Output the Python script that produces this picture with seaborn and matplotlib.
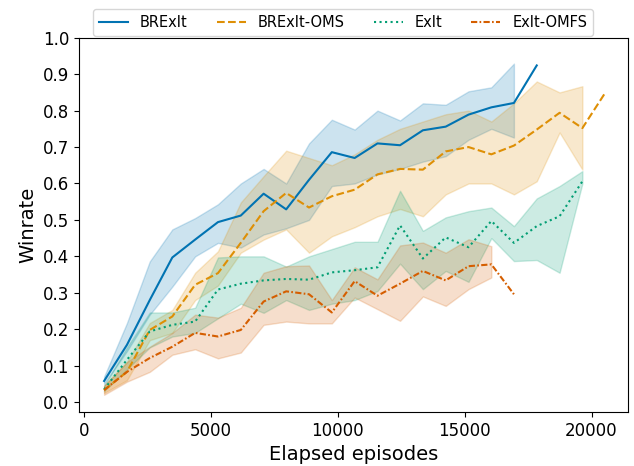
import numpy as np
import pandas as pd
import seaborn as sns
import matplotlib.pyplot as plt

episodes = [780, 1680, 2580, 3470, 4370, 5270, 6170, 7070, 7960, 8860, 9760, 10660,
            11560, 12450, 13350, 14250, 15150, 16050, 16940, 17840, 18740, 19640, 20540]

methods = ['BRExIt', 'BRExIt-OMS', 'ExIt', 'ExIt-OMFS']

# mean winrate per checkpoint
brexit = [0.058, 0.157, 0.28, 0.397, 0.446, 0.494, 0.512, 0.572, 0.529, 0.61, 0.686, 0.67,
          0.71, 0.705, 0.746, 0.756, 0.789, 0.809, 0.821, 0.924]
brexit_oms = [0.033, 0.083, 0.198, 0.235, 0.322, 0.354, 0.437, 0.524, 0.574, 0.534, 0.565, 0.583,
              0.625, 0.64, 0.638, 0.688, 0.70, 0.68, 0.704, 0.748, 0.794, 0.752, 0.849]
exit_ = [0.035, 0.116, 0.194, 0.212, 0.221, 0.309, 0.325, 0.334, 0.338, 0.336, 0.356, 0.362,
         0.37, 0.485, 0.394, 0.452, 0.425, 0.497, 0.437, 0.483, 0.51, 0.606]
exit_omfs = [0.033, 0.083, 0.121, 0.152, 0.19, 0.18, 0.198, 0.276, 0.304, 0.296, 0.246, 0.332,
             0.292, 0.325, 0.36, 0.334, 0.373, 0.378, 0.296]

# confidence bands
brexit_lo = [0.05, 0.14, 0.24, 0.317, 0.40, 0.437, 0.424, 0.46, 0.477, 0.50, 0.593, 0.60,
             0.625, 0.64, 0.66, 0.675, 0.72, 0.75, 0.726]
brexit_hi = [0.07, 0.217, 0.386, 0.474, 0.505, 0.543, 0.60, 0.64, 0.60, 0.71, 0.775, 0.748,
             0.80, 0.773, 0.82, 0.816, 0.853, 0.864, 0.929]
brexit_oms_lo = [0.025, 0.06, 0.17, 0.19, 0.28, 0.32, 0.41, 0.446, 0.474, 0.41, 0.455, 0.48,
                 0.51, 0.53, 0.51, 0.57, 0.60, 0.60, 0.57, 0.606, 0.74, 0.638]
brexit_oms_hi = [0.045, 0.11, 0.217, 0.253, 0.355, 0.414, 0.548, 0.62, 0.69, 0.67, 0.65, 0.68,
                 0.72, 0.75, 0.77, 0.79, 0.80, 0.77, 0.82, 0.88, 0.85, 0.867]
exit_lo = [0.03, 0.09, 0.15, 0.18, 0.19, 0.23, 0.27, 0.245, 0.28, 0.253, 0.27, 0.28,
           0.305, 0.38, 0.31, 0.36, 0.33, 0.45, 0.387, 0.39, 0.355, 0.60]
exit_hi = [0.045, 0.15, 0.246, 0.246, 0.259, 0.397, 0.40, 0.40, 0.372, 0.40, 0.42, 0.44,
           0.44, 0.58, 0.47, 0.507, 0.524, 0.534, 0.483, 0.559, 0.593, 0.634]
exit_omfs_lo = [0.02, 0.056, 0.083, 0.13, 0.145, 0.12, 0.136, 0.212, 0.221, 0.216, 0.216, 0.287,
                0.255, 0.223, 0.29, 0.264, 0.31, 0.342]
exit_omfs_hi = [0.045, 0.11, 0.152, 0.19, 0.24, 0.232, 0.259, 0.355, 0.373, 0.375, 0.28, 0.37,
                0.337, 0.43, 0.438, 0.41, 0.447, 0.428]

means = [brexit, brexit_oms, exit_, exit_omfs]
lows = [brexit_lo, brexit_oms_lo, exit_lo, exit_omfs_lo]
highs = [brexit_hi, brexit_oms_hi, exit_hi, exit_omfs_hi]
styles = ['-', '--', ':', (0, (3, 1.1, 0.8, 1.1))]
colors = sns.color_palette('colorblind')

fig = plt.figure(figsize=(6.34, 4.66), dpi=100)
ax = fig.add_axes([0.125, 0.116, 0.866, 0.803])

for name, m, lo, hi, ls, c in zip(methods, means, lows, highs, styles, colors):
    df = pd.DataFrame({'episodes': episodes[:len(m)], 'winrate': m})
    sns.lineplot(data=df, x='episodes', y='winrate', ax=ax, color=c,
                 linestyle=ls, linewidth=1.5, label=name)
    ax.fill_between(episodes[:len(lo)], lo, hi, color=c, alpha=0.2)

ax.set_xlim(-200, 21450)
ax.set_ylim(-0.027, 1.0)
ax.set_xticks([0, 5000, 10000, 15000, 20000])
ax.set_yticks(np.arange(0, 1.01, 0.1))
ax.tick_params(labelsize=12)
ax.set_xlabel('Elapsed episodes', fontsize=14)
ax.set_ylabel('Winrate', fontsize=14)
ax.legend(loc='lower left', bbox_to_anchor=(0.025, 1.005), ncol=4, borderaxespad=0,
          fontsize=10.5)

plt.savefig('out.png', dpi=100)
